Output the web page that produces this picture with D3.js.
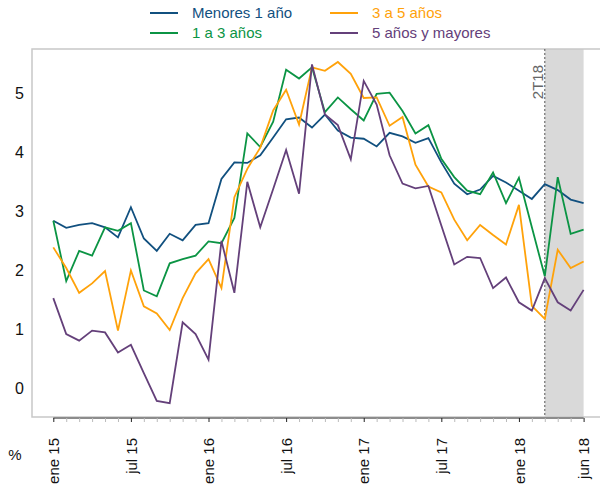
<!DOCTYPE html>
<html>
<head>
<meta charset="utf-8">
<script src="https://cdn.jsdelivr.net/npm/d3@7"></script>
<style>
  body { margin: 0; background: #fff; }
  svg { display: block; font-family: "Liberation Sans", Arial, sans-serif; }
</style>
</head>
<body>
<div class="chart"></div>
<script>
// monthly observations, ene 15 .. jun 18
const months = d3.timeMonth.range(new Date(2015, 0, 1), new Date(2018, 6, 1));

const menores1 = [2.84, 2.72, 2.77, 2.80, 2.73, 2.56, 3.07, 2.54, 2.33, 2.62, 2.51, 2.77,
  2.80, 3.55, 3.83, 3.82, 3.95, 4.25, 4.56, 4.59, 4.42, 4.64, 4.37, 4.25,
  4.23, 4.10, 4.33, 4.27, 4.16, 4.24, 3.83, 3.47, 3.29, 3.37, 3.60, 3.49,
  3.35, 3.21, 3.46, 3.36, 3.20, 3.14];
const de1a3 = [2.84, 1.82, 2.33, 2.25, 2.73, 2.67, 2.80, 1.66, 1.56, 2.12, 2.19, 2.25,
  2.49, 2.46, 2.89, 4.32, 4.09, 4.52, 5.40, 5.25, 5.44, 4.68, 4.93, 4.73,
  4.54, 4.99, 5.01, 4.70, 4.32, 4.46, 3.89, 3.58, 3.35, 3.29, 3.66, 3.14,
  3.57, 2.73, 1.90, 3.58, 2.62, 2.69];
const de3a5 = [2.39, 2.04, 1.62, 1.78, 1.99, 0.98, 2.00, 1.39, 1.27, 0.99, 1.53, 1.95,
  2.19, 1.70, 3.24, 3.72, 4.08, 4.71, 5.06, 4.47, 5.44, 5.38, 5.53, 5.33,
  4.92, 4.93, 4.45, 4.60, 3.79, 3.42, 3.32, 2.86, 2.51, 2.77, 2.60, 2.44,
  3.11, 1.40, 1.18, 2.35, 2.04, 2.15];
const de5ymas = [1.53, 0.92, 0.81, 0.98, 0.95, 0.61, 0.74, 0.26, -0.21, -0.25, 1.12, 0.92,
  0.49, 2.50, 1.62, 3.50, 2.73, 3.38, 4.04, 3.30, 5.49, 4.64, 4.46, 3.88,
  5.21, 4.81, 3.95, 3.47, 3.39, 3.43, 2.76, 2.10, 2.23, 2.21, 1.70, 1.88,
  1.46, 1.32, 1.87, 1.46, 1.32, 1.67];

const seriesNames = ["Menores 1 año", "1 a 3 años", "3 a 5 años", "5 años y mayores"];
const seriesValues = [menores1, de1a3, de3a5, de5ymas];
const colors = ["#11507f", "#0b9444", "#ffa20a", "#64407a"];

const yTicks = [0, 1, 2, 3, 4, 5];
const xTickLabels = ["ene 15", "jul 15", "ene 16", "jul 16", "ene 17", "jul 17", "ene 18", "jun 18"];
const shadeStart = new Date(2018, 2, 1);   // 2T18 projection window
const shadeLabel = "2T18";

const width = 600, height = 486;
const plot = {left: 32, top: 49, bottom: 418, x0: 53.3, x1: 583.6};

const svg = d3.select('.chart')
  .append('svg')
  .attr('width', width)
  .attr('height', height);

const xScale = d3.scaleLinear()
  .domain([0, months.length - 1])
  .range([plot.x0, plot.x1]);

const yScale = d3.scaleLinear()
  .domain([-0.5, 5.75])
  .range([plot.bottom, plot.top]);

const fmtMonth = d => {
  const m = ["ene","feb","mar","abr","may","jun","jul","ago","sep","oct","nov","dic"][d.getMonth()];
  return m + " " + String(d.getFullYear()).slice(2);
};

// shaded window
const iShade = months.findIndex(d => +d === +shadeStart);
svg.append("rect")
  .attr("x", xScale(iShade))
  .attr("y", plot.top)
  .attr("width", xScale(months.length - 1) - xScale(iShade))
  .attr("height", plot.bottom - plot.top)
  .attr("fill", "#d9d9d9");

// frame
svg.append("path")
  .attr("d", `M${width},${plot.top}H${plot.left}V${plot.bottom - 1}H${width}`)
  .attr("fill", "none")
  .attr("stroke", "#c8c8c8")
  .attr("stroke-width", 1.5);

svg.append("line")
  .attr("x1", xScale(iShade)).attr("x2", xScale(iShade))
  .attr("y1", plot.top).attr("y2", plot.bottom)
  .attr("stroke", "#555")
  .attr("stroke-width", 1)
  .attr("stroke-dasharray", "2,2");

svg.append("text")
  .attr("transform", `translate(${xScale(iShade) - 2},${plot.top + 16}) rotate(-90)`)
  .attr("text-anchor", "end")
  .attr("font-size", 15)
  .attr("fill", "#666")
  .text(shadeLabel);

// x axis
const xAxis = d3.axisBottom(xScale)
  .tickValues(d3.range(months.length))
  .tickSize(4)
  .tickFormat(i => xTickLabels.includes(fmtMonth(months[i])) ? fmtMonth(months[i]) : "");

const bottomAxis = svg.append("g")
  .attr("transform", `translate(0,${plot.bottom})`)
  .call(xAxis);

bottomAxis.select(".domain")
  .attr("stroke", "#8c8c8c")
  .attr("stroke-width", 2)
  .attr("d", `M${plot.x0},0H${plot.x1}`);

bottomAxis.selectAll(".tick line")
  .attr("stroke", (i) => xTickLabels.includes(fmtMonth(months[i])) ? "#222" : "#bbb");

bottomAxis.selectAll(".tick text")
  .attr("font-size", 15)
  .attr("font-family", "Liberation Sans, Arial, sans-serif")
  .attr("fill", "#111")
  .attr("text-anchor", "end")
  .attr("transform", "rotate(-90)")
  .attr("x", -20)
  .attr("y", 0)
  .attr("dy", "0.35em");

// y axis
const leftAxis = svg.append("g")
  .attr("transform", `translate(${plot.left},0)`)
  .call(d3.axisLeft(yScale).tickValues(yTicks).tickFormat(d3.format("d")).tickSize(0).tickPadding(8));

leftAxis.select(".domain").remove();
leftAxis.selectAll(".tick text")
  .attr("font-size", 16)
  .attr("font-family", "Liberation Sans, Arial, sans-serif")
  .attr("fill", "#111");

svg.append("text")
  .attr("x", 15).attr("y", 460)
  .attr("text-anchor", "middle")
  .attr("font-size", 15)
  .attr("fill", "#111")
  .text("%");

// lines
const line = d3.line()
  .x((d, i) => xScale(i))
  .y(d => yScale(d));

svg.append("g")
  .selectAll("path")
  .data(seriesValues)
  .join("path")
  .attr("fill", "none")
  .attr("stroke", (d, i) => colors[i])
  .attr("stroke-width", 1.8)
  .attr("stroke-linejoin", "miter")
  .attr("d", line);

// legend
const legendPos = [[150, 13], [150, 33], [330, 13], [330, 33]];
const legend = svg.append("g")
  .selectAll("g")
  .data(seriesNames)
  .join("g")
  .attr("transform", (d, i) => `translate(${legendPos[i][0]},${legendPos[i][1]})`);

legend.append("line")
  .attr("x1", 0).attr("x2", 28)
  .attr("stroke", (d, i) => colors[i])
  .attr("stroke-width", 2);

legend.append("text")
  .attr("x", 42)
  .attr("dy", "0.35em")
  .attr("font-size", 15)
  .attr("fill", (d, i) => colors[i])
  .text(d => d);
</script>
</body>
</html>
